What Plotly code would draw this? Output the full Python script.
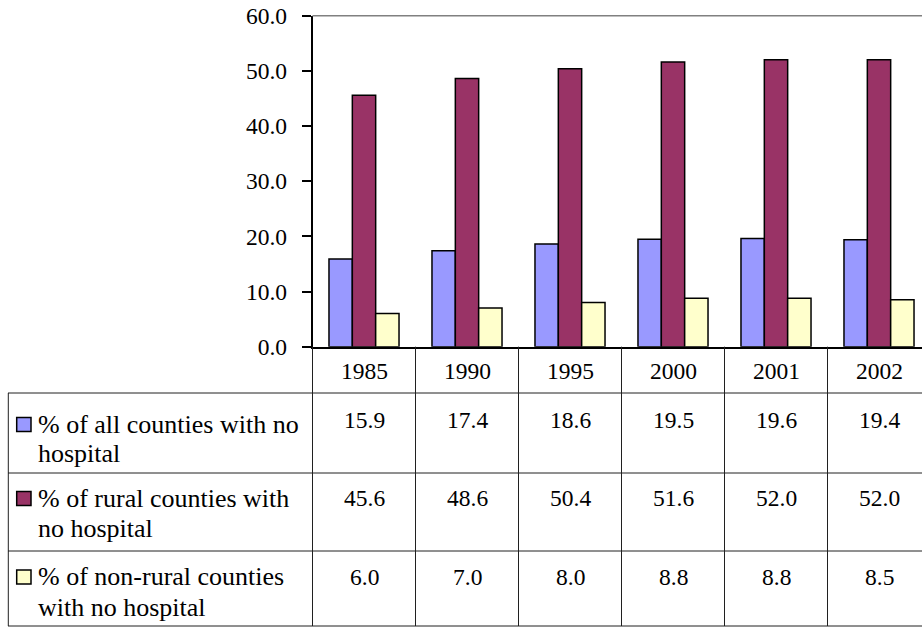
import plotly.graph_objects as go

years = ["1985", "1990", "1995", "2000", "2001", "2002"]
all_counties = [15.9, 17.4, 18.6, 19.5, 19.6, 19.4]
rural = [45.6, 48.6, 50.4, 51.6, 52.0, 52.0]
nonrural = [6.0, 7.0, 8.0, 8.8, 8.8, 8.5]
series_values = [all_counties, rural, nonrural]
series_labels = [
    ["% of all counties with no", "hospital"],
    ["% of rural counties with", "no hospital"],
    ["% of non-rural counties", "with no hospital"],
]
series_names = [" ".join(l) for l in series_labels]
colors = ["#9999FF", "#993366", "#FFFFCC"]
y_ticks = [0, 10, 20, 30, 40, 50, 60]

W, H = 922, 627
FONT = "Times New Roman, Liberation Serif, Times, serif"
FS_NUM = 23.5
FS_TXT = 26


def px(x):
    return x / W


def py(y):
    return 1 - y / H


plot_left, plot_top, plot_bottom = 312.5, 15.7, 346.7
col_w = 103.0
x_right = -0.5 + (W - plot_left) / col_w

fig = go.Figure()
for name, vals, c in zip(series_names, series_values, colors):
    fig.add_trace(go.Bar(x=list(range(len(years))), y=vals, name=name,
                         marker=dict(color=c, line=dict(color="black", width=1.5))))

row_tops = [393.0, 473.0, 551.0]
table_bottom = 626.0
header_y = 370.5
value_y = [420.0, 498.0, 577.0]
legend_line_y = [[424.0, 453.0], [498.0, 528.5], [576.5, 607.0]]

annotations = []
for i, yr in enumerate(years):
    annotations.append(dict(x=i, xref="x", y=py(header_y), yref="paper", text=yr,
                            showarrow=False, xanchor="center", yanchor="middle",
                            font=dict(family=FONT, size=FS_NUM, color="black")))
    for r, vals in enumerate(series_values):
        annotations.append(dict(x=i, xref="x", y=py(value_y[r]), yref="paper",
                                text=f"{vals[i]:.1f}", showarrow=False,
                                xanchor="center", yanchor="middle",
                                font=dict(family=FONT, size=FS_NUM, color="black")))

shapes = []
for r, lines in enumerate(series_labels):
    for k, t in enumerate(lines):
        annotations.append(dict(x=px(36), xref="paper", y=py(legend_line_y[r][k]), yref="paper",
                                text=t, showarrow=False, xanchor="left", yanchor="middle",
                                font=dict(family=FONT, size=FS_TXT, color="black")))
    cy = legend_line_y[r][0] + 0.5
    shapes.append(dict(type="rect", xref="paper", yref="paper",
                       x0=px(16.7), x1=px(31.0), y0=py(cy - 7), y1=py(cy + 7),
                       fillcolor=colors[r], line=dict(color="black", width=1.5)))

line_col = "#202020"
for yv in row_tops + [table_bottom]:
    shapes.append(dict(type="line", xref="paper", yref="paper",
                       x0=px(8), x1=1, y0=py(yv), y1=py(yv),
                       line=dict(color=line_col, width=1)))
shapes.append(dict(type="line", xref="paper", yref="paper",
                   x0=px(8.3), x1=px(8.3), y0=py(row_tops[0]), y1=py(table_bottom),
                   line=dict(color=line_col, width=1)))
shapes.append(dict(type="line", xref="paper", yref="paper",
                   x0=px(plot_left), x1=px(plot_left), y0=py(plot_bottom), y1=py(table_bottom),
                   line=dict(color=line_col, width=1)))
for k in range(1, len(years)):
    shapes.append(dict(type="line", xref="x", yref="paper",
                       x0=k - 0.5, x1=k - 0.5, y0=py(plot_bottom), y1=py(table_bottom),
                       line=dict(color=line_col, width=1)))
shapes.append(dict(type="line", xref="paper", yref="paper",
                   x0=px(plot_left), x1=1, y0=py(plot_top), y1=py(plot_top),
                   line=dict(color="#808080", width=1.5)))

fig.update_layout(
    width=W, height=H, autosize=False,
    margin=dict(l=0, r=0, t=0, b=0, autoexpand=False),
    paper_bgcolor="white", plot_bgcolor="white",
    barmode="group", bargap=0.32, bargroupgap=0,
    showlegend=False,
    annotations=annotations, shapes=shapes,
    font=dict(family=FONT, size=FS_NUM, color="black"),
    xaxis=dict(domain=[px(plot_left), 1], range=[-0.5, x_right],
               showticklabels=False, ticks="", showgrid=False, zeroline=False,
               showline=True, linecolor="black", linewidth=1.5, automargin=False),
    yaxis=dict(domain=[py(plot_bottom), py(plot_top)], range=[0, 60],
               tickvals=y_ticks, tickformat=".1f", ticks="outside", ticklen=9,
               tickcolor="black", tickwidth=1.5, showgrid=False, zeroline=False,
               showline=True, linecolor="black", linewidth=1.5,
               ticklabelstandoff=10, automargin=False,
               tickfont=dict(family=FONT, size=FS_NUM, color="black")),
)

fig.write_html("out.html", config={"displayModeBar": False},
               post_script="document.body.style.margin='0';document.body.style.overflow='hidden';")
